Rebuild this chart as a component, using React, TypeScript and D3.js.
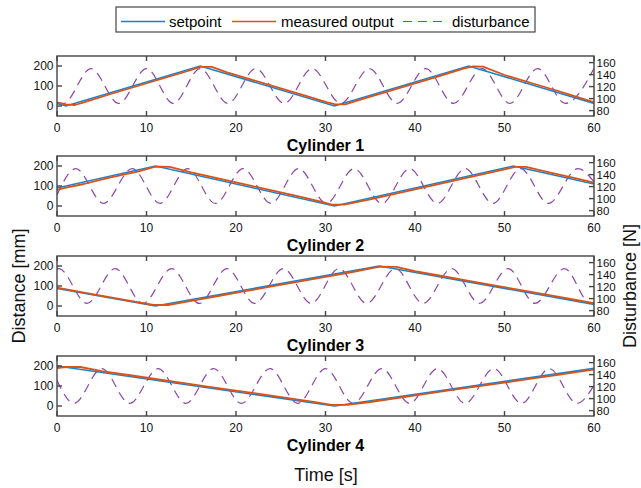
import React from "react";
import * as d3 from "d3";

type Pt = [number, number];

// tick values
const timeTicks = [0, 10, 20, 30, 40, 50, 60];
const distanceTicks = [0, 100, 200];
const forceTicks = [80, 100, 120, 140, 160];

const cylinderNames = ["Cylinder 1", "Cylinder 2", "Cylinder 3", "Cylinder 4"];

// setpoint [t, mm]
const setpoint1: Pt[] = [[0, 13], [1, 0], [16, 200], [31, 0], [46, 200], [60, 13]];
const setpoint2: Pt[] = [[0, 90], [11, 200], [31, 0], [51, 200], [60, 110]];
const setpoint3: Pt[] = [[0, 88], [11, 0], [36, 200], [60, 8]];
const setpoint4: Pt[] = [[0, 200], [31, 0], [60, 188]];

// measured output [t, mm]
const measured1: Pt[] = [
	[0, 16], [1, 8], [2, 5], [3, 18], [6, 60], [9, 100], [12, 140], [15, 180], [16, 196], [17.3, 196],
	[19, 168], [22, 128], [25, 88], [28, 48], [30.2, 18], [31, 9], [32.2, 8], [34, 33], [37, 73], [40, 113],
	[43, 153], [45.5, 188], [46.5, 198], [47.6, 197], [50, 155], [53, 115], [56, 75], [58, 47], [60, 19],
];
const measured2: Pt[] = [
	[0, 80], [1, 92], [3, 110], [6, 143], [9, 172], [10.8, 194], [11.3, 197], [12.6, 196], [15, 168],
	[18, 138], [21, 108], [24, 78], [27, 48], [29.5, 22], [30.6, 8], [32.1, 7], [35, 33], [38, 63], [41, 93],
	[44, 123], [47, 153], [50, 183], [51.2, 196], [52.4, 196], [55, 168], [58, 138], [60, 117],
];
const measured3: Pt[] = [
	[0, 92], [3, 67], [6, 43], [9, 19], [10.8, 6], [12.4, 5], [15, 26], [18, 50], [21, 74], [24, 98],
	[27, 122], [30, 146], [33, 170], [35.5, 192], [36.2, 197], [37.9, 196], [40, 174], [43, 150], [46, 126],
	[49, 102], [52, 78], [55, 54], [58, 30], [60, 14],
];
const measured4: Pt[] = [
	[0, 190], [1, 195], [2.6, 195], [5, 174], [8, 155], [11, 135], [14, 116], [17, 96], [20, 77], [23, 58],
	[26, 38], [28.5, 22], [30.5, 7], [32.4, 6], [35, 20], [38, 40], [41, 59], [44, 79], [47, 98], [50, 117],
	[53, 137], [56, 156], [58, 169], [60, 182],
];

// disturbance [t, N] (read at the peaks and troughs)
const disturbance1: Pt[] = [
	[0, 94], [0.7, 92], [3.8, 150], [6.9, 92], [10.0, 150], [13.0, 92], [16.0, 150], [19.1, 92], [22.2, 150],
	[25.4, 92], [28.5, 150], [31.7, 92], [34.9, 150], [38.0, 92], [41.2, 150], [44.3, 92], [47.5, 150],
	[50.6, 92], [53.7, 150], [56.8, 92], [60, 150],
];
const disturbance2: Pt[] = [
	[0, 106], [2.1, 150], [5.2, 92], [8.4, 150], [11.5, 92], [14.6, 150], [17.7, 92], [20.8, 150], [23.9, 92],
	[27.0, 150], [30.1, 92], [33.2, 150], [36.3, 92], [39.4, 150], [42.5, 92], [45.6, 150], [48.7, 92],
	[51.8, 150], [54.9, 92], [58.2, 150], [60, 128],
];
const disturbance3: Pt[] = [
	[0, 149], [0.2, 150], [3.35, 92], [6.5, 150], [9.6, 92], [12.8, 150], [15.9, 92], [19.0, 150], [22.1, 92],
	[25.3, 150], [28.4, 92], [31.5, 150], [34.6, 92], [37.8, 150], [40.9, 92], [44.1, 150], [47.2, 92],
	[50.4, 150], [53.4, 92], [56.7, 150], [59.6, 92], [60, 93],
];
const disturbance4: Pt[] = [
	[0, 130], [1.9, 92], [5.0, 150], [8.1, 92], [11.3, 150], [14.4, 92], [17.5, 150], [20.6, 92], [23.8, 150],
	[26.9, 92], [30.0, 150], [33.1, 92], [36.3, 150], [39.4, 92], [42.5, 150], [45.6, 92], [48.8, 150],
	[51.9, 92], [55.0, 150], [58.1, 92], [60, 122],
];

const setpoints = [setpoint1, setpoint2, setpoint3, setpoint4];
const measured = [measured1, measured2, measured3, measured4];
const disturbances = [disturbance1, disturbance2, disturbance3, disturbance4];

const W = 641;
const H = 488;
const left = 57;
const right = 594;
const panelTop = [56, 156, 256, 356];
const panelH = 60;

const BLUE = "#1f80c8";
const RED = "#d95319";
const PURPLE = "#8e44a8";
const AXIS = "#454545";
const FONT = "'Liberation Sans', Arial, Helvetica, sans-serif";

const x = d3.scaleLinear().domain([0, 60]).range([left, right]);

const Panel: React.FC<{index: number}> = ({index}) => {
	const top = panelTop[index];
	const bottom = top + panelH;
	const yL = d3.scaleLinear().domain([-50, 250]).range([bottom, top]);
	const yR = d3.scaleLinear().domain([71, 171]).range([bottom, top]);

	const lineL = d3.line<Pt>().x((d) => x(d[0])).y((d) => yL(d[1]));
	const lineR = d3
		.line<Pt>()
		.x((d) => x(d[0]))
		.y((d) => yR(d[1]))
		.curve(d3.curveMonotoneX);

	const tick = 5;
	return (
		<g>
			<defs>
				<clipPath id={`clip${index}`}>
					<rect x={left} y={top} width={right - left} height={panelH} />
				</clipPath>
			</defs>
			<rect x={left} y={top} width={right - left} height={panelH} fill="#fff" />
			<g clipPath={`url(#clip${index})`}>
				<path d={lineR(disturbances[index]) || ""} fill="none" stroke={PURPLE} strokeWidth={1.2} strokeDasharray="9,6" />
				<path d={lineL(setpoints[index]) || ""} fill="none" stroke={BLUE} strokeWidth={1.6} />
				<path d={lineL(measured[index]) || ""} fill="none" stroke={RED} strokeWidth={1.8} strokeLinejoin="round" />
			</g>
			<rect x={left} y={top} width={right - left} height={panelH} fill="none" stroke={AXIS} strokeWidth={1.4} />
			{timeTicks.map((t) => (
				<g key={t}>
					<line x1={x(t)} x2={x(t)} y1={bottom} y2={bottom - tick} stroke={AXIS} strokeWidth={1.4} />
					<line x1={x(t)} x2={x(t)} y1={top} y2={top + tick} stroke={AXIS} strokeWidth={1.4} />
					<text x={x(t)} y={bottom + 15.5} textAnchor="middle" fontSize={12} fontFamily={FONT} fill="#111">
						{t}
					</text>
				</g>
			))}
			{distanceTicks.map((v) => (
				<g key={v}>
					<line x1={left} x2={left + tick} y1={yL(v)} y2={yL(v)} stroke={AXIS} strokeWidth={1.4} />
					<text x={left - 3.5} y={yL(v)} dy="0.36em" textAnchor="end" fontSize={12} fontFamily={FONT} fill="#111">
						{v}
					</text>
				</g>
			))}
			{forceTicks.map((v) => (
				<g key={v}>
					<line x1={right} x2={right - tick} y1={yR(v)} y2={yR(v)} stroke={AXIS} strokeWidth={1.4} />
					<text x={right + 2.5} y={yR(v)} dy="0.36em" textAnchor="start" fontSize={11.5} fontFamily={FONT} fill="#111">
						{v}
					</text>
				</g>
			))}
			<text x={(left + right) / 2} y={bottom + 35} textAnchor="middle" fontSize={16} fontWeight="bold" fontFamily={FONT} fill="#000">
				{cylinderNames[index]}
			</text>
		</g>
	);
};

const App: React.FC = () => {
	const legendY = 21.5;
	return (
		<svg width={W} height={H} style={{position: "absolute", left: 0, top: 0, background: "#fff"}}>
			<rect x={0} y={0} width={W} height={H} fill="#fff" />
			{cylinderNames.map((_, i) => (
				<Panel key={i} index={i} />
			))}

			{/* legend */}
			<rect x={116} y={7} width={419} height={25} fill="#fff" stroke={AXIS} strokeWidth={1.2} />
			<line x1={121} x2={165} y1={legendY} y2={legendY} stroke={BLUE} strokeWidth={1.4} />
			<text x={169} y={legendY + 5.3} fontSize={15} fontFamily={FONT} fill="#000">setpoint</text>
			<line x1={232} x2={276} y1={legendY} y2={legendY} stroke={RED} strokeWidth={1.4} />
			<text x={281} y={legendY + 5.3} fontSize={15} fontFamily={FONT} fill="#000">measured output</text>
			<line x1={403} x2={448} y1={legendY} y2={legendY} stroke={PURPLE} strokeWidth={1.2} strokeDasharray="9,6" />
			<text x={452} y={legendY + 5.3} fontSize={15} fontFamily={FONT} fill="#000">disturbance</text>

			{/* axis labels */}
			<text x={326} y={481} textAnchor="middle" fontSize={18} fontFamily={FONT} fill="#111">Time [s]</text>
			<text transform="translate(24.5,286) rotate(-90)" textAnchor="middle" fontSize={18} fontFamily={FONT} fill="#111">
				Distance [mm]
			</text>
			<text transform="translate(636,286) rotate(-90)" textAnchor="middle" fontSize={18} fontFamily={FONT} fill="#111">
				Disturbance [N]
			</text>
		</svg>
	);
};

export default App;
